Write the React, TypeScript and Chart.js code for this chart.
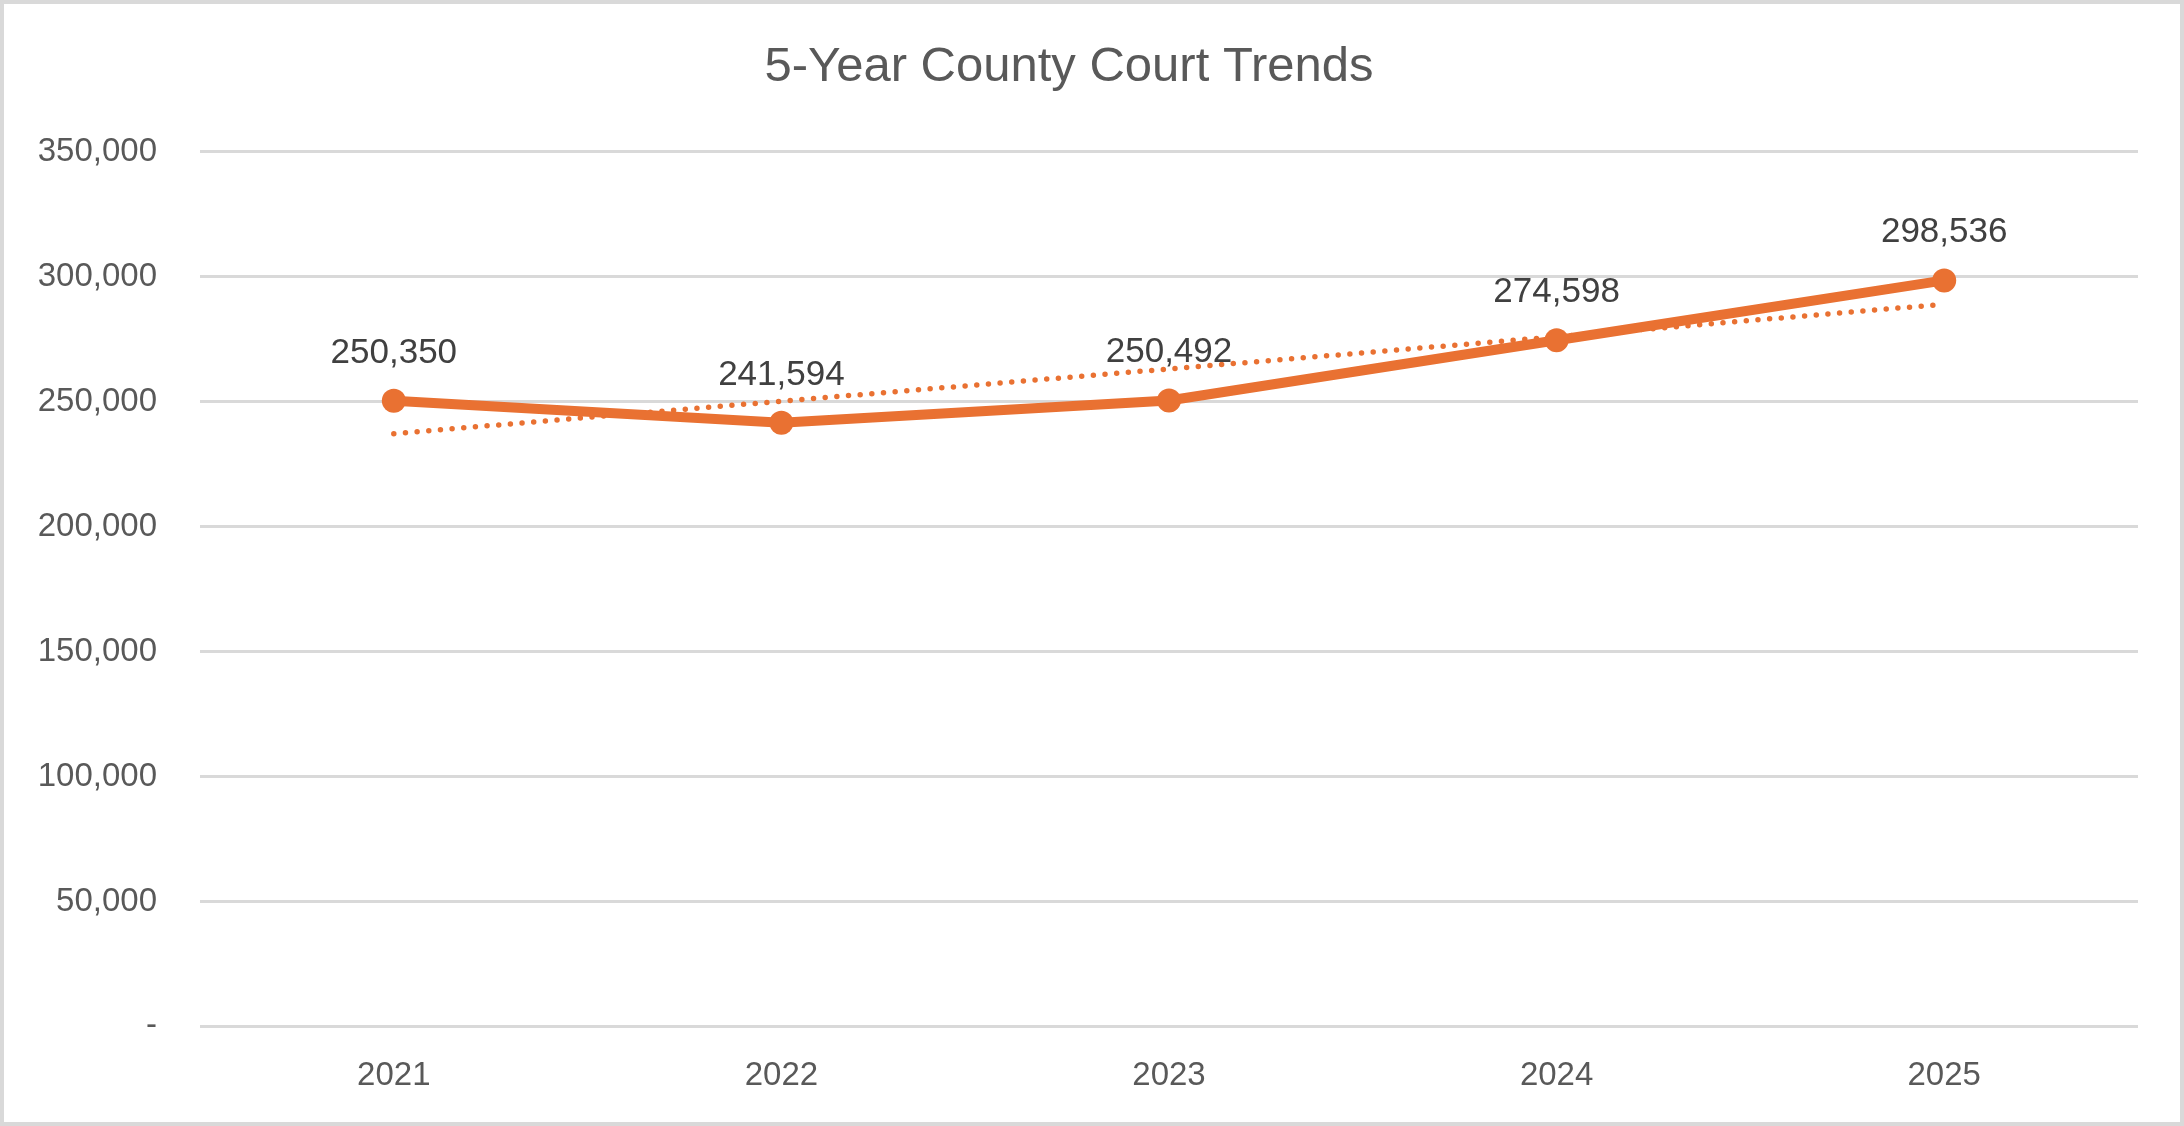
import React, { useEffect, useRef } from "react";
import { Chart, registerables } from "chart.js";

Chart.register(...registerables);

const categories = ["2021", "2022", "2023", "2024", "2025"];
const caseCounts = [250350, 241594, 250492, 274598, 298536];
// Linear trendline at each year
const trendValues = [237200, 250200, 263100, 276000, 289000];
const yTicks = [0, 50000, 100000, 150000, 200000, 250000, 300000, 350000];
const chartTitle = "5-Year County Court Trends";

const ORANGE = "#E97132";
const TEXT = "#595959";
const LABEL = "#404040";
const GRID = "#D9D9D9";
const FONT = "'Liberation Sans', Arial, sans-serif";

const fmt = (v: number) => (v === 0 ? "-" : v.toLocaleString("en-US"));

const bgBorderPlugin = {
  id: "bgBorder",
  beforeDraw(chart: any) {
    const { ctx, width, height } = chart;
    ctx.save();
    ctx.fillStyle = "#ffffff";
    ctx.fillRect(0, 0, width, height);
    ctx.strokeStyle = GRID;
    ctx.lineWidth = 4;
    ctx.strokeRect(2, 2, width - 4, height - 4);
    ctx.restore();
  },
};

const dataLabelPlugin = {
  id: "dataLabels",
  afterDatasetsDraw(chart: any) {
    const { ctx } = chart;
    const meta = chart.getDatasetMeta(0);
    const ds = chart.data.datasets[0];
    ctx.save();
    ctx.font = `35px ${FONT}`;
    ctx.fillStyle = LABEL;
    ctx.textAlign = "center";
    ctx.textBaseline = "alphabetic";
    meta.data.forEach((pt: any, i: number) => {
      ctx.fillText(fmt(ds.data[i] as number), pt.x, pt.y - 38);
    });
    ctx.restore();
  },
};

export default function App() {
  const ref = useRef<HTMLCanvasElement | null>(null);

  useEffect(() => {
    if (!ref.current) return;
    const chart = new Chart(ref.current, {
      type: "line",
      data: {
        labels: categories,
        datasets: [
          {
            label: "Cases",
            data: caseCounts,
            borderColor: ORANGE,
            backgroundColor: ORANGE,
            borderWidth: 10,
            pointRadius: 12,
            pointHoverRadius: 12,
            pointBackgroundColor: ORANGE,
            pointBorderWidth: 0,
            tension: 0,
            order: 0,
          },
          {
            label: "Trend",
            data: trendValues,
            borderColor: ORANGE,
            borderWidth: 5.5,
            borderDash: [0, 11.7],
            borderCapStyle: "round",
            pointRadius: 0,
            tension: 0,
            order: 1,
          },
        ],
      },
      options: {
        responsive: false,
        animation: false,
        devicePixelRatio: 1,
        layout: { padding: { left: 0, right: 46, top: 0, bottom: 0 } },
        plugins: {
          legend: { display: false },
          tooltip: { enabled: false },
          title: {
            display: true,
            text: chartTitle,
            color: TEXT,
            font: { family: FONT, size: 49, weight: "normal", lineHeight: 1.2 },
            padding: { top: 38, bottom: 55 },
          },
        },
        scales: {
          x: {
            offset: true,
            grid: { display: false, drawTicks: false },
            border: { display: false },
            ticks: {
              color: TEXT,
              font: { family: FONT, size: 33 },
              padding: 30,
              maxRotation: 0,
            },
          },
          y: {
            min: 0,
            max: 350000,
            afterFit(scale: any) {
              scale.width = 200;
            },
            afterBuildTicks(scale: any) {
              scale.ticks = yTicks.map((v) => ({ value: v }));
            },
            grid: { color: GRID, lineWidth: 3, drawTicks: false },
            border: { display: false },
            ticks: {
              color: TEXT,
              font: { family: FONT, size: 33 },
              padding: 43,
              callback: (v: any) => fmt(Number(v)),
            },
          },
        },
      },
      plugins: [bgBorderPlugin, dataLabelPlugin],
    });
    return () => chart.destroy();
  }, []);

  return (
    <div style={{ position: "fixed", left: 0, top: 0, width: 2184, height: 1126, background: "#fff" }}>
      <canvas ref={ref} width={2184} height={1126} style={{ display: "block" }} />
    </div>
  );
}
